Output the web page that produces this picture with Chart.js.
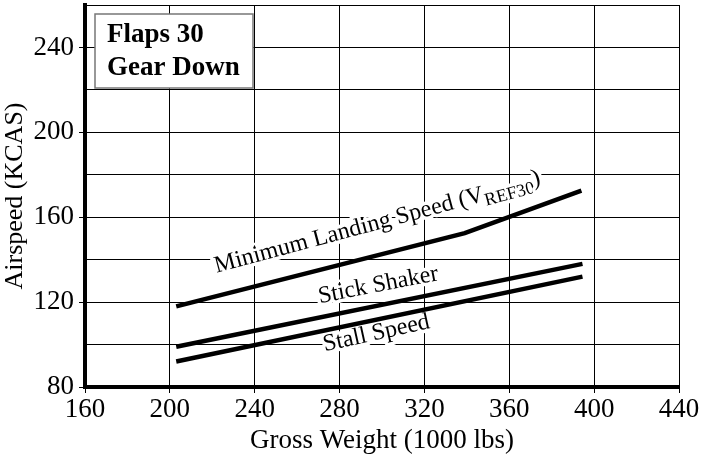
<!DOCTYPE html>
<html>
<head>
<meta charset="utf-8">
<script src="https://cdn.jsdelivr.net/npm/chart.js@4"></script>
<style>
  html, body { margin: 0; padding: 0; background: #fff; }
</style>
</head>
<body>
<canvas id="myChart" width="701" height="457"></canvas>
<script>
'use strict';

//data

//gross weight (1000 lbs) and airspeed (KCAS) for each curve
const minLandingWeight = [203, 339, 394];
const minLandingSpeed = [118, 152.5, 172.5];
const stickShakerWeight = [203, 394.5];
const stickShakerSpeed = [99, 138];
const stallWeight = [203, 394.5];
const stallSpeed = [92, 132];

//axis ranges and labelled ticks
const weightTicks = [160, 200, 240, 280, 320, 360, 400, 440];
const speedTicks = [80, 120, 160, 200, 240];

//curve captions
const captionTexts = ['Minimum Landing Speed (V', 'Stick Shaker', 'Stall Speed'];
const captionSub = ['REF30', '', ''];
const captionTail = [')', '', ''];

//where the captions sit (data coords) and their tilt
const captionAt = [[222, 133.8], [270.6, 119.5], [273, 96.8]];
const captionAngle = [-15, -11, -12.5];

const boxLines = ['Flaps 30', 'Gear Down'];

const FONT = "'Liberation Serif', 'Times New Roman', serif";

//helpers

function toPoints(xs, ys) {
  const pts = [];
  for(let i = 0; i < xs.length; i++) {
    pts.push({x: xs[i], y: ys[i]});
  }
  return pts;
}

function curve(xs, ys) {
  return {
    data: toPoints(xs, ys),
    showLine: true,
    borderColor: '#000',
    borderWidth: 4.5,
    pointRadius: 0,
    tension: 0,
    fill: false
  };
}

function haloText(ctx, text, x, y) {
  ctx.strokeText(text, x, y);
  ctx.fillText(text, x, y);
}

//plugins

const captions = {
  id: 'captions',
  beforeDatasetsDraw(chart) {
    const ctx = chart.ctx;
    const xs = chart.scales.x;
    const ys = chart.scales.y;
    ctx.save();
    ctx.fillStyle = '#000';
    ctx.strokeStyle = '#fff';
    ctx.lineWidth = 7;
    ctx.lineJoin = 'round';
    ctx.textBaseline = 'alphabetic';
    ctx.textAlign = 'left';
    for(let i = 0; i < captionTexts.length; i++) {
      const px = xs.getPixelForValue(captionAt[i][0]);
      const py = ys.getPixelForValue(captionAt[i][1]);
      ctx.save();
      ctx.translate(px, py);
      ctx.rotate(captionAngle[i] * Math.PI / 180);
      ctx.font = '24px ' + FONT;
      haloText(ctx, captionTexts[i], 0, 0);
      let w = ctx.measureText(captionTexts[i]).width;
      if(captionSub[i]) {
        ctx.font = '18px ' + FONT;
        haloText(ctx, captionSub[i], w, 5);
        w += ctx.measureText(captionSub[i]).width;
      }
      if(captionTail[i]) {
        ctx.font = '24px ' + FONT;
        haloText(ctx, captionTail[i], w, -2);
      }
      ctx.restore();
    }
    ctx.restore();
  }
};

const flapsBox = {
  id: 'flapsBox',
  afterDraw(chart) {
    const ctx = chart.ctx;
    const area = chart.chartArea;
    const left = area.left + 10;
    const top = area.top + 9;
    ctx.save();
    ctx.fillStyle = '#fff';
    ctx.fillRect(left, top, 158, 74);
    ctx.strokeStyle = '#777';
    ctx.lineWidth = 1.5;
    ctx.strokeRect(left, top, 158, 74);
    ctx.fillStyle = '#000';
    ctx.font = 'bold 27px ' + FONT;
    ctx.textBaseline = 'alphabetic';
    ctx.fillText(boxLines[0], left + 12, top + 28);
    ctx.fillText(boxLines[1], left + 12, top + 61);
    ctx.restore();
  }
};

//main

const config = {
  type: 'scatter',
  data: {
    datasets: [
      curve(minLandingWeight, minLandingSpeed),
      curve(stickShakerWeight, stickShakerSpeed),
      curve(stallWeight, stallSpeed)
    ]
  },
  options: {
    responsive: false,
    animation: false,
    layout: {padding: {top: 5, right: 22, left: 0, bottom: 0}},
    plugins: {legend: {display: false}, tooltip: {enabled: false}},
    scales: {
      x: {
        type: 'linear',
        min: weightTicks[0],
        max: weightTicks[weightTicks.length - 1],
        afterFit(scale) { scale.height = 70; },
        border: {color: '#000', width: 4},
        grid: {
          color: '#000',
          lineWidth: 1,
          tickLength: 6,
          tickColor: (c) => weightTicks.includes(c.tick && c.tick.value) ? '#000' : 'rgba(0,0,0,0)'
        },
        ticks: {
          stepSize: 20,
          color: '#000',
          padding: 1,
          maxRotation: 0,
          font: {family: FONT, size: 27},
          callback: (v) => weightTicks.includes(v) ? String(v) : ''
        },
        title: {
          display: true,
          text: 'Gross Weight (1000 lbs)',
          color: '#000',
          padding: {top: 0, bottom: 0},
          font: {family: FONT, size: 27}
        }
      },
      y: {
        type: 'linear',
        min: 80,
        max: 260,
        afterFit(scale) {
          scale.width = 85;
          scale.paddingTop = 0;
        },
        border: {color: '#000', width: 4},
        grid: {
          color: '#000',
          lineWidth: 1,
          tickLength: 6,
          tickColor: (c) => speedTicks.includes(c.tick && c.tick.value) ? '#000' : 'rgba(0,0,0,0)'
        },
        ticks: {
          stepSize: 20,
          color: '#000',
          padding: 5,
          font: {family: FONT, size: 27},
          callback: (v) => speedTicks.includes(v) ? String(v) : ''
        },
        title: {
          display: true,
          text: 'Airspeed (KCAS)',
          color: '#000',
          padding: {top: 0, bottom: 2},
          font: {family: FONT, size: 26}
        }
      }
    }
  },
  plugins: [captions, flapsBox]
};

new Chart(document.getElementById('myChart'), config);
</script>
</body>
</html>
